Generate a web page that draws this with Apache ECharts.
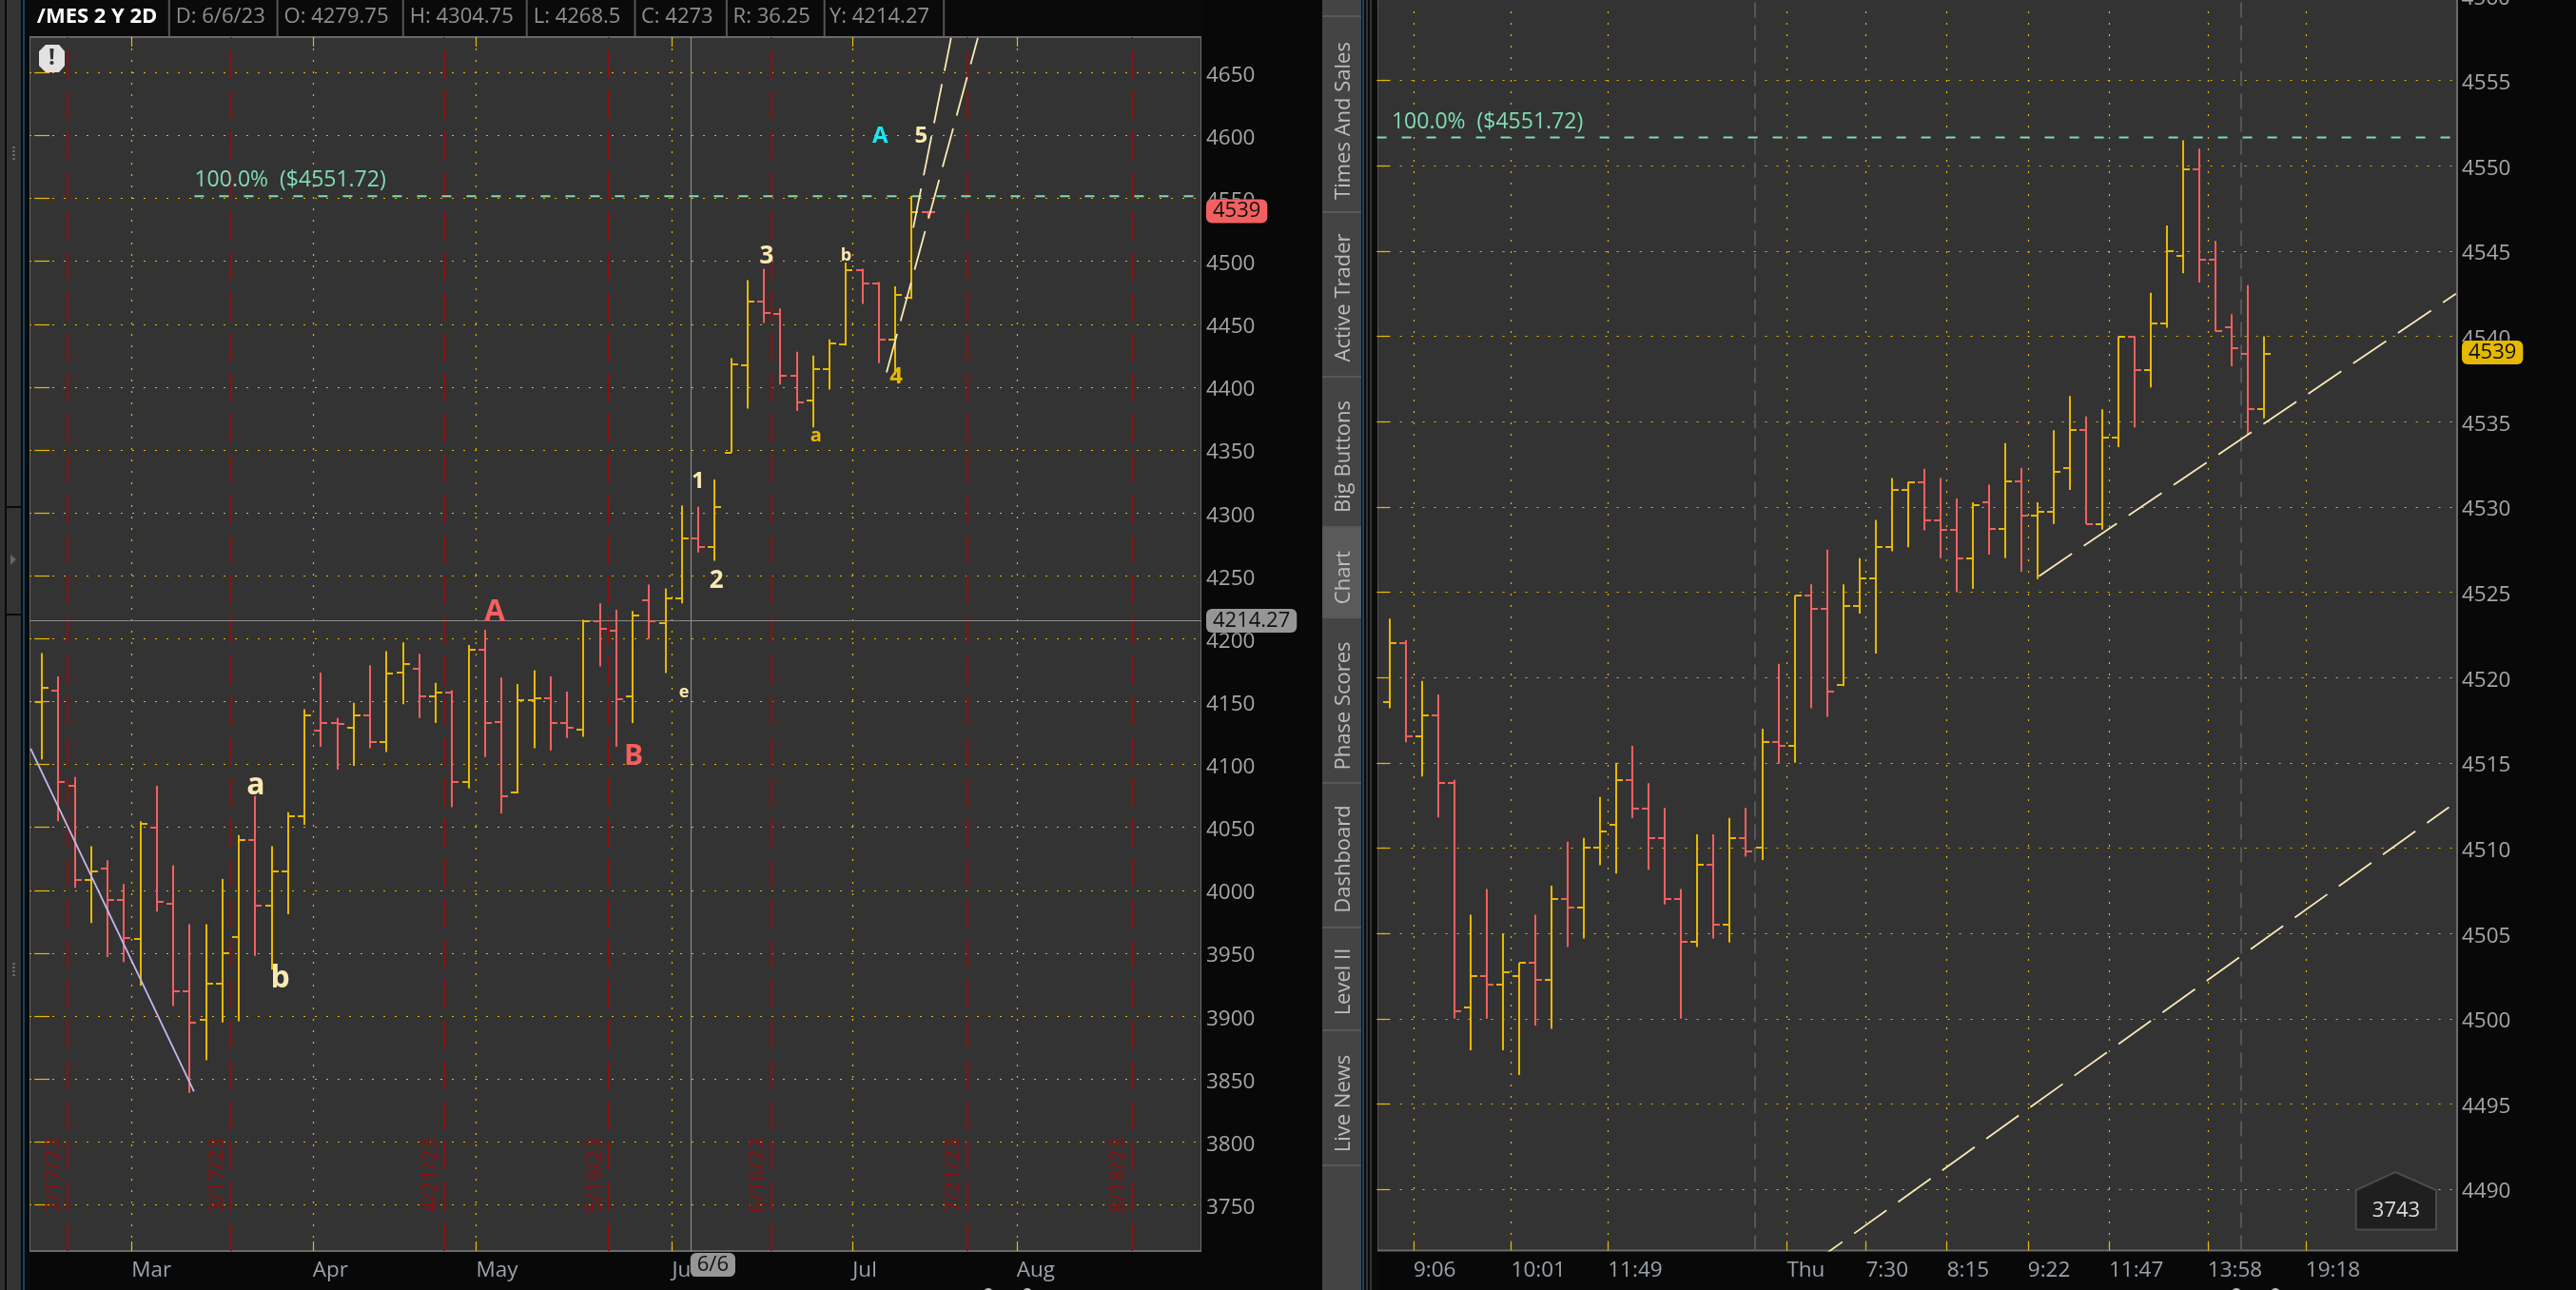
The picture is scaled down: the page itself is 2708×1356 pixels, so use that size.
<!DOCTYPE html>
<html><head><meta charset="utf-8">
<style>html,body{margin:0;padding:0;background:#080808}#c{width:2708px;height:1356px}</style>
<script src="https://cdn.jsdelivr.net/npm/echarts@6/dist/echarts.min.js"></script>
</head><body><div id="c"></div>
<script>
// ---------- DATA: daily (2D) panel ----------
const dailyOpen  = [4150,4159,4083,4008,4017,3992,3961,4050,3989,3920,3897,3926,3963,4040,3988,4015,4059,4127,4133,4129,4139,4118,4173,4176,4154,4157,4086,4191,4134,4078,4151,4153,4133,4128,4214,4206,4154,4230.5,4212.5,4232,4279.75,4273,4348,4417,4468,4458,4409,4389.5,4414,4434,4493,4482,4438,4471,4539];
const dailyHigh  = [4188.5,4170,4090,4035,4024,4005,4055,4083,4020,3973,3973,4009,4044,4075,4035,4062,4144,4173,4137,4149,4179,4190,4197,4188,4165,4159,4195,4207,4169,4164,4175,4170,4158,4215,4228,4223,4222,4243,4240,4306,4304.75,4326.5,4423,4485,4494,4462.5,4428,4425,4438,4499,4494,4483.5,4480,4552,4540];
const dailyLow   = [4104,4055,4002,3974,3947,3943,3924,3983,3908,3839,3865,3895,3896,3948,3937,3981,4052,4114,4096,4099,4113,4110,4148,4137,4133,4066,4081,4106,4061,4077,4113,4111,4121,4122,4178,4114,4133,4199.75,4172.75,4228,4268.5,4262,4348,4383,4451,4402,4381,4368,4398,4433,4466,4419,4410,4470,4534];
const dailyClose = [4161,4086,4008,4015,3992,3962,4053,3991,3920,3895,3926,3950,4040,3988,4015,4059,4139,4133,4132,4139,4118,4172,4180,4154,4157,4086,4191,4133,4075,4151,4153,4133,4129,4214,4208,4152,4218.5,4214,4232,4280,4273,4305,4418,4468,4459,4409,4388,4414,4435,4493,4482,4438,4473,4539,4539];
const dailyDir   = "UDDUDDUDDDUUUDUUUDDUDUUDUDUDDUUDDUDDUDUUDUUUDDDUUUDDUUD";
const dailyPriceTicks = [3750,3800,3850,3900,3950,4000,4050,4100,4150,4200,4250,4300,4350,4400,4450,4500,4550,4600,4650];
const dailyMonthTicks = [5.46,16.5,26.45,38.4,49.4,59.4];
const dailyMonthLabels = ["Mar","Apr","May","Jun","Jul","Aug"];
const expiryTicks = [1.52,11.5,24.5,34.5,44.42,56.4,66.4];
const expiryLabels = ["2/17/23","3/17/23","4/21/23","5/19/23","6/16/23","7/21/23","8/18/23"];
const dailyFib = 4551.72;
const dailyFibStart = 9.29;
const dailyCrossIndex = 39.55;
const dailyCrossPrice = 4214.27;
const dailyLast = 4539;
const dailyDownTrend = [[-0.70,4112.7],[9.26,3840]];
const dailyChannelA = [[51.47,4411.6],[57.03,4677.5]];
const dailyChannelB = [[53.1,4526.7],[55.4,4677.5]];
const dailyNoteText = ["A","B","a","b","1","2","3","a","b","4","5","A","e"];
const dailyNoteIndex = [27.58,36.05,13.03,14.52,39.98,41.1,44.16,47.17,49,52.06,53.58,51.08,39.13];
const dailyNotePrice = [4221,4106,4083.5,3929.5,4325,4246,4504,4361,4504.4,4408.3,4599.5,4599.5,4157];

// ---------- DATA: intraday panel ----------
const intraOpen  = [4518.56,4522,4516.55,4517.8,4513.8,4500.67,4502.47,4502,4502.47,4503.26,4502.25,4507,4506.5,4510,4511.35,4514,4512.33,4510.56,4507,4504.5,4509,4505.5,4510.56,4510,4516.2,4516,4524.78,4524,4519.55,4524.2,4525.8,4527.67,4531,4531.44,4529.2,4528.67,4527,4530.27,4528.7,4531.5,4529.5,4529.7,4532.28,4534.5,4529,4534.07,4540,4538,4540.74,4544.73,4549.8,4544.5,4540.55,4539,4535.73];
const intraHigh  = [4523.46,4522.2,4519.8,4519,4514,4506.1,4507.6,4505,4503.26,4506.1,4507.8,4510.37,4510.6,4513,4515,4516,4513.8,4512.35,4507.6,4510.8,4510.8,4511.77,4512.35,4517,4520.8,4524.8,4525.46,4527.5,4525.46,4527,4529.24,4531.7,4531.46,4532.24,4531.7,4530.5,4530.27,4531.3,4533.75,4532.3,4530.27,4534.5,4536.5,4535.3,4535.73,4540,4540,4542.55,4546.5,4551.5,4551,4545.6,4541.3,4543,4540];
const intraLow   = [4518.2,4516.2,4514.2,4511.8,4500,4498.15,4500,4498.15,4496.7,4499.6,4499.4,4504.2,4504.7,4509,4508.5,4511.76,4508.73,4506.7,4500,4504.2,4504.7,4504.46,4509.5,4509.3,4514.95,4515,4518.2,4517.7,4519.5,4523.74,4521.4,4527.4,4527.63,4528.63,4527,4525,4525.2,4527.2,4527,4526.2,4525.77,4529,4531,4529,4528.67,4533.5,4534.67,4537,4540.5,4543.7,4543.16,4540.3,4538.25,4534.26,4535.2];
const intraClose = [4522,4516.55,4517.8,4513.8,4500.45,4502.47,4502,4502.7,4503.26,4502.25,4507,4506.5,4510,4511,4514,4512.33,4510.56,4507,4504.5,4509,4505.5,4510.56,4509.78,4516.2,4516,4524.78,4524,4519.2,4524.2,4525.8,4527.67,4531,4531.44,4529.2,4528.67,4527,4530.08,4528.7,4531.5,4529.5,4529.7,4532.06,4534.5,4529,4534.07,4540,4538,4540.74,4545,4549.8,4544.5,4540.3,4539.3,4535.73,4539];
const intraDir   = "UDUDDUDUUDUDUUUDDDDUDUDUDUDDUUUUUDDDUDUDUUUDUUDUUUDDDDU";
const intraPriceTicks = [4490,4495,4500,4505,4510,4515,4520,4525,4530,4535,4540,4545,4550,4555];
const intraTimeTicks = [1.47,7.5,13.47,24.52,29.4,34.4,39.4,44.4,50.5,56.55];
const intraTimeLabels = ["9:06","10:01","11:49","Thu","7:30","8:15","9:22","11:47","13:58","19:18"];
const sessionTicks = [22.52,52.56];
const intraFib = 4551.66;
const intraLast = 4539;
const intraTrendUpper = [[40.08,4525.94],[65.83,4542.5]];
const intraTrendLower = [[25.95,4485.55],[65.4,4512.4]];

// ---------- TEXT ----------
const headerCells = ["/MES 2 Y 2D","D: 6/6/23","O: 4279.75","H: 4304.75","L: 4268.5","C: 4273","R: 36.25","Y: 4214.27"];
const fibLabel = "100.0%  ($4551.72)";
const tabNames = ["Times And Sales","Active Trader","Big Buttons","Chart","Phase Scores","Dashboard","Level II","Live News"];
const volumeBadge = "3743";
const clippedPriceLabel = "4560";

// ---------- STYLE / LAYOUT ----------
const FONT = '"Open Sans"';
const GOLD = '#e6b800', RED = '#f45f5f', CREAM = '#fbe9b4', MINT = '#7fdcb4';
const DOT = '#e6b800', DARKRED = '#8c1010', AXTXT = '#a6a6a6';
const BW = 2, TICK = 7;

const noteStyle = [
 [RED,32],[RED,30],[CREAM,32],[CREAM,32],[CREAM,24],[CREAM,26],[CREAM,26],
 [GOLD,20],[CREAM,18],[GOLD,24],[CREAM,24],['#19e8f0',24],[CREAM,18]
];

function ohlcSeries(open,high,low,close,dir,ax){
  const snap=v=>Math.round(v);
  return {
    type:'custom', xAxisIndex:ax, yAxisIndex:ax, z:5, silent:true,
    encode:{x:0,y:[2,3]},
    data: open.map((o,i)=>[i,o,high[i],low[i],close[i],dir[i]==='U'?1:0]),
    renderItem(params,api){
      const i=api.value(0), col=api.value(5)?GOLD:RED;
      const pH=api.coord([i,api.value(2)]), pL=api.coord([i,api.value(3)]);
      const pO=api.coord([i,api.value(1)]), pC=api.coord([i,api.value(4)]);
      const st={stroke:col,lineWidth:BW};
      const x=snap(pH[0]);
      return {type:'group',children:[
        {type:'line',shape:{x1:x,y1:pH[1],x2:x,y2:pL[1]},style:st},
        {type:'line',shape:{x1:x-TICK,y1:snap(pO[1]),x2:x,y2:snap(pO[1])},style:st},
        {type:'line',shape:{x1:x,y1:snap(pC[1]),x2:x+TICK,y2:snap(pC[1])},style:st}
      ]};
    }
  };
}
function dashLine(pts,ax,color,dash,w){
  return {type:'line',xAxisIndex:ax,yAxisIndex:ax,data:pts,showSymbol:false,symbol:'none',silent:true,z:6,
    lineStyle:{color:color,width:w||1.8,type:dash||'solid',opacity:1}};
}
function vMarks(vals,ax,color,dash,w,off){
  return {type:'line',xAxisIndex:ax,yAxisIndex:ax,data:[],silent:true,z:2,
    markLine:{silent:true,symbol:'none',animation:false,label:{show:false},
      lineStyle:{color:color,type:dash,width:w,dashOffset:off||0,opacity:1},
      data:vals.map(v=>({xAxis:v}))}};
}
function textSeries(ax,items){
  return {type:'scatter',xAxisIndex:ax,yAxisIndex:ax,symbolSize:0,silent:true,z:8,clip:false,
    itemStyle:{opacity:1},data:items};
}
function badge(x,y,txt,bg,pos,offset){
  return {value:[x,y],label:{show:true,opacity:1,formatter:txt,position:pos,distance:5,offset:offset||[0,0],
    fontFamily:FONT,fontSize:22,color:'#111',backgroundColor:bg,borderRadius:6,padding:[2,7,1,7],
    borderColor:'rgba(0,0,0,0.25)',borderWidth:1}};
}

const G1={left:31,top:39,w:1232,h:1276};
const G2={left:1447.6,top:0,w:1135.4,h:1314.6};
const x1Min=-0.765,x1Max=70.66,y1Min=3713.3,y1Max=4678.2;
const x2Min=-0.78,x2Max=65.9,y2Min=4486.4,y2Max=4559.72;

function xAx(grid,min,max,ticks,labels,pos){
  const showLabels=!!labels;
  return {type:'value',gridIndex:grid,min,max,position:pos,
    axisLine:{show:false},
    axisTick:{show:true,inside:true,length:10,customValues:ticks,lineStyle:{color:GOLD,width:1.2}},
    axisLabel:showLabels?{show:true,customValues:ticks,align:'left',margin:9,fontFamily:FONT,fontSize:22.5,color:'#9aa3aa',
      formatter:v=>labels[ticks.indexOf(v)]}:{show:false},
    splitLine:{show:showLabels,lineStyle:{color:DOT,type:[2,10],width:1.2}}};
}
function yAx(grid,min,max,ticks,showLabels,pos){
  return {type:'value',gridIndex:grid,min,max,position:pos,
    axisLine:{show:false},
    axisTick:{show:true,inside:true,length:8,customValues:ticks,lineStyle:{color:GOLD,width:1.2}},
    axisLabel:showLabels?{show:true,customValues:ticks,margin:5,verticalAlign:'top',lineHeight:6,fontFamily:FONT,fontSize:22.5,color:AXTXT,
      formatter:v=>String(v)}:{show:false},
    splitLine:{show:showLabels,lineStyle:{color:DOT,type:[2,10],width:1.2}}};
}

const dailyNotes = dailyNoteText.map((t,i)=>({value:[dailyNoteIndex[i],dailyNotePrice[i]],
  label:{show:true,opacity:1,position:'inside',formatter:t,fontFamily:FONT,fontWeight:'bold',color:noteStyle[i][0],fontSize:noteStyle[i][1]}}));
const expiryNotes = expiryLabels.map((t,i)=>({value:[expiryTicks[i],3743.5],
  label:{show:true,opacity:1,position:[0,0],offset:[0,-14],rotate:90,align:'left',verticalAlign:'middle',formatter:t,
    fontFamily:FONT,fontSize:22,color:DARKRED}}));
const fibNote=(x,y)=>({value:[x,y],label:{show:true,opacity:1,position:[0,0],align:'left',verticalAlign:'bottom',formatter:fibLabel,
    fontFamily:FONT,fontSize:23,color:MINT,offset:[0,-5]}});

const series=[
  vMarks(expiryTicks,0,DARKRED,[30,12.5],2),
  vMarks(sessionTicks,1,'#565656',[16,8],2),
  {type:'line',xAxisIndex:0,yAxisIndex:0,data:[],silent:true,z:3,
    markLine:{silent:true,symbol:'none',animation:false,label:{show:false},lineStyle:{color:'#8a8a8a',type:'solid',width:1.2,opacity:1},
      data:[{xAxis:dailyCrossIndex},{yAxis:dailyCrossPrice}]}},
  dashLine([[dailyFibStart,dailyFib],[x1Max,dailyFib]],0,MINT,[10,16],2),
  dashLine([[x2Min,intraFib],[65.55,intraFib]],1,MINT,[10,16],2),
  ohlcSeries(dailyOpen,dailyHigh,dailyLow,dailyClose,dailyDir,0),
  ohlcSeries(intraOpen,intraHigh,intraLow,intraClose,intraDir,1),
  dashLine(dailyDownTrend,0,'#c4b8f0',null,1.8),
  dashLine(dailyChannelA,0,CREAM,[42,14]),
  dashLine(dailyChannelB,0,CREAM,[42,14]),
  dashLine(intraTrendUpper,1,CREAM,[42,15]),
  dashLine(intraTrendLower,1,CREAM,[42,15]),
  textSeries(0,dailyNotes.concat(expiryNotes,[fibNote(dailyFibStart,dailyFib)])),
  textSeries(1,[fibNote(0.12,intraFib)]),
  textSeries(0,[
    badge(x1Max,dailyLast,String(dailyLast),'#f26060','right',[0,-1]),
    badge(x1Max,dailyCrossPrice,String(dailyCrossPrice),'#969696','right'),
    badge(dailyCrossIndex,y1Min,'6/6','#969696','bottom',[23,-3])
  ]),
  textSeries(1,[badge(x2Max,intraLast,String(intraLast),GOLD,'right',[0,-1])])
];

// ---------- UI chrome ----------
const chrome=[];
const rect=(x,y,w,h,fill,z)=>chrome.push({type:'rect',shape:{x,y,width:w,height:h},style:{fill},z:z||0,silent:true});
// left gutter
rect(0,0,5,1356,'#2f2f2f'); rect(5,0,2,1356,'#0a0a0a'); rect(7,0,15,1356,'#333');
rect(22,0,2,1356,'#0a0a0a'); rect(24,0,2,1356,'#0d4766'); rect(26,0,5,1356,'#0a0a0a');
rect(5,532,17,2,'#0a0a0a'); rect(5,645,17,2,'#0a0a0a');
chrome.push({type:'polygon',shape:{points:[[11,583],[17,588],[11,594]]},style:{fill:'#666'},silent:true});
[[14,154],[14,158],[14,162],[14,166],[14,1012],[14,1016],[14,1020],[14,1024]].forEach(p=>rect(p[0]-1,p[1],3,2,'#666'));
// header
rect(31,0,1232,38,'#0a0a0a'); 
const sepX=[176.8,290.6,422.8,552.7,666.5,762.9,865.7,991.2];
sepX.forEach(x=>rect(x,0,2,38,'#555'));
const cellX=[38.8,184.8,298.6,430.8,560.7,674,770.6,872];
headerCells.forEach((t,i)=>chrome.push({type:'text',x:cellX[i],y:18,silent:true,z:2,style:{text:t,
  font:(i===0?'bold ':'')+'22px '+FONT,fill:i===0?'#fff':'#8f8f8f',textVerticalAlign:'middle'}}));
// study icon
rect(1275,3,31,3,'#e8e8e8'); rect(1275,31,31,3,'#e8e8e8');
chrome.push({type:'bezierCurve',shape:{x1:1277,y1:27,cpx1:1288,cpy1:27,cpx2:1288,cpy2:8,x2:1304,y2:9},style:{stroke:'#e8e8e8',lineWidth:1.6,fill:null},silent:true});
// tab column
rect(1263,0,125,1356,'#080808');
rect(1390,0,41,1356,'#444');
const tabEdges=[16,222,395,553,648,822,974,1082,1224];
rect(1390,553,41,95,'#5a5a5a');
tabEdges.forEach(y=>rect(1390,y,41,2,'#585858'));
const tabMid=[127,313,480,607,742,903,1032,1160];
tabNames.forEach((t,i)=>chrome.push({type:'text',x:1413,y:tabMid[i],rotation:Math.PI/2,silent:true,z:2,style:{text:t,
  font:'22px '+FONT,fill:'#bdbdbd',textAlign:'center',textVerticalAlign:'middle'}}));
rect(1431,0,17,1356,'#0a0a0a'); rect(1432,0,2,1356,'#0d4766'); rect(1436,0,2,1356,'#333'); rect(1440,0,2,1356,'#333');
// alert octagon
chrome.push({type:'polygon',shape:{points:[[48,47],[62,47],[68,54],[68,69],[62,76],[48,76],[41,69],[41,54]]},style:{fill:'#e2e2e2'},z:9,silent:true});
chrome.push({type:'text',x:54.5,y:61,z:10,silent:true,style:{text:'!',font:'bold 24px '+FONT,fill:'#333',textAlign:'center',textVerticalAlign:'middle'}});
// volume pentagon
chrome.push({type:'polygon',shape:{points:[[2518,1232],[2561,1251],[2561,1292.6],[2476.7,1292.6],[2476.7,1251]]},style:{fill:'#1f1f1f',stroke:'#4b4b4b',lineWidth:2},z:9,silent:true});
chrome.push({type:'text',x:2519,y:1273,z:10,silent:true,style:{text:volumeBadge,font:'22px '+FONT,fill:'#dcdcdc',textAlign:'center',textVerticalAlign:'middle'}});
// bottom controls peeking in
[1039,1080,2351,2392].forEach(x=>chrome.push({type:'circle',shape:{cx:x,cy:1359,r:5},style:{fill:'#b5b5b5'},silent:true}));
// top edge of the intraday panel runs off the window: hide its border, keep the clipped top label
rect(1449,0,1133,2,'#333333',3);
chrome.push({type:'text',x:2587.5,y:-1,z:3,silent:true,style:{text:clippedPriceLabel,font:'22.5px '+FONT,fill:AXTXT,textVerticalAlign:'middle'}});

const chart=echarts.init(document.getElementById('c'),null,{renderer:'canvas'});
chart.setOption({
  animation:false,backgroundColor:'#080808',
  graphic:{elements:chrome},
  grid:[
    {left:G1.left,top:G1.top,width:G1.w,height:G1.h,show:true,backgroundColor:'#333333',borderColor:'#6a6a6a',borderWidth:2,containLabel:false},
    {left:G2.left,top:G2.top,width:G2.w,height:G2.h,show:true,backgroundColor:'#333333',borderColor:'#6a6a6a',borderWidth:2,containLabel:false}
  ],
  xAxis:[
    xAx(0,x1Min,x1Max,dailyMonthTicks,dailyMonthLabels,'bottom'),
    xAx(1,x2Min,x2Max,intraTimeTicks,intraTimeLabels,'bottom'),
    xAx(0,x1Min,x1Max,dailyMonthTicks,null,'top')
  ],
  yAxis:[
    yAx(0,y1Min,y1Max,dailyPriceTicks,true,'right'),
    yAx(1,y2Min,y2Max,intraPriceTicks,true,'right'),
    yAx(0,y1Min,y1Max,dailyPriceTicks,false,'left'),
    yAx(1,y2Min,y2Max,intraPriceTicks,false,'left')
  ],
  tooltip:{show:false},legend:{show:false},
  series
});
</script></body></html>
